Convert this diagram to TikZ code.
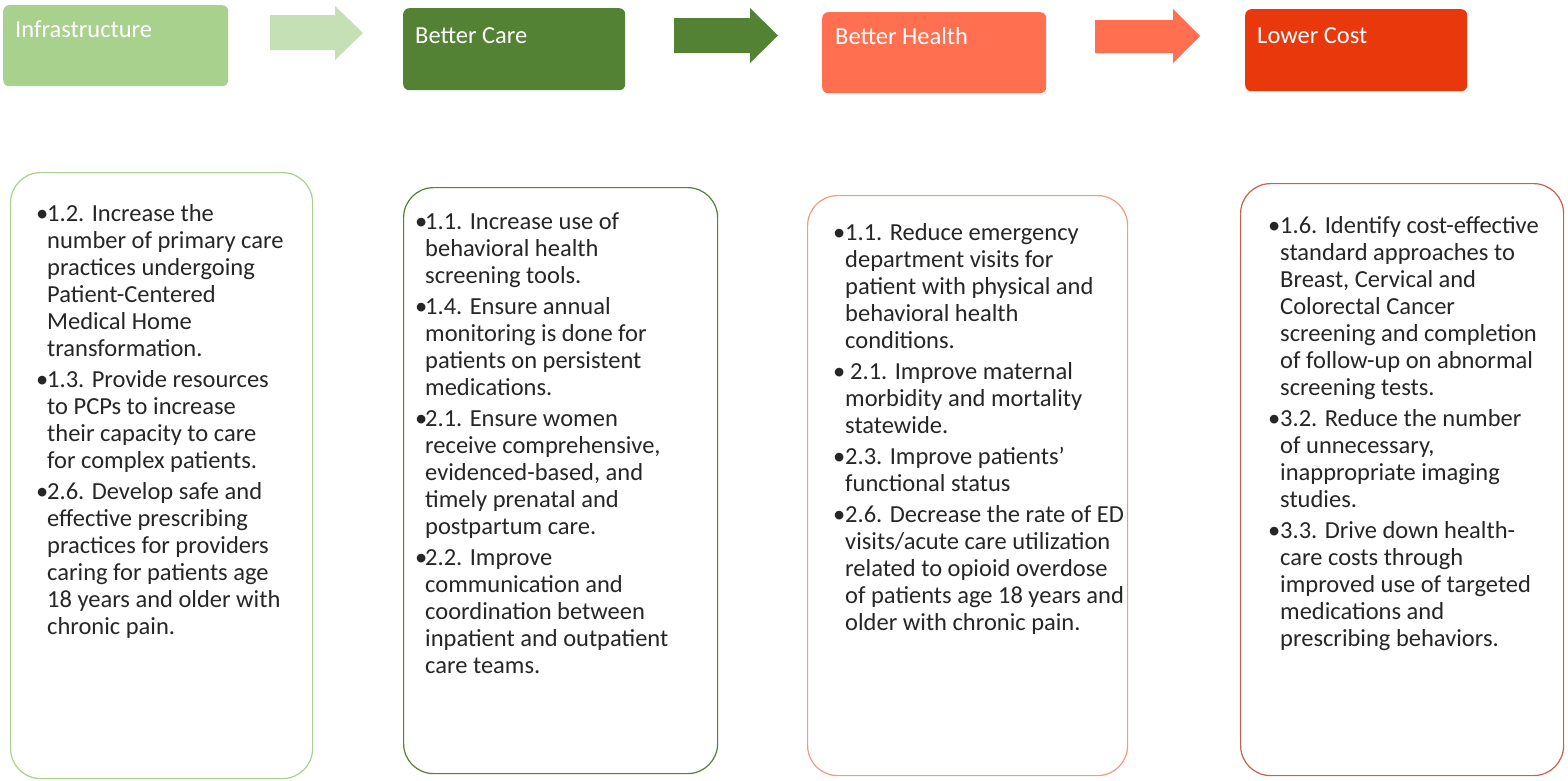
\documentclass[tikz,border=0pt]{standalone}
\usepackage{fontspec}
\setmainfont{Carlito}
\usepackage{array}
\definecolor{g1}{HTML}{A9D18E}
\definecolor{g1a}{HTML}{C5E0B4}
\definecolor{g2}{HTML}{548235}
\definecolor{o1}{HTML}{FF6F50}
\definecolor{r1}{HTML}{EA380D}
\definecolor{txt}{HTML}{262626}
\definecolor{b3}{HTML}{F29A84}
\definecolor{b4}{HTML}{C9604F}
\tikzset{
 headbox/.style={anchor=north west, rounded corners=6pt, inner sep=0pt},
 hlabel/.style={anchor=base west, text=white, font=\fontsize{24.5}{28}\selectfont, inner sep=0pt},
 card/.style={anchor=north west, rounded corners=30pt, line width=1.2pt, inner sep=0pt},
 items/.style={anchor=base west, inner sep=0pt, text=txt, font=\fontsize{24.5}{27}\selectfont},
}
\newcommand{\bul}{\textbullet}
\begin{document}
\begin{tikzpicture}[x=1pt,y=-1pt]
\useasboundingbox (0,0) rectangle (1568,780);
\fill[white] (0,0) rectangle (1568,780);
% header boxes
\node[headbox, fill=g1, minimum width=225pt, minimum height=81pt] (h1) at (3,5) {};
\node[headbox, fill=g2, minimum width=222pt, minimum height=82pt] (h2) at (403,8) {};
\node[headbox, fill=o1, minimum width=224pt, minimum height=81pt] (h3) at (822,12) {};
\node[headbox, fill=r1, minimum width=222pt, minimum height=82pt] (h4) at (1245,9) {};
\node[hlabel] (l1) at (15,37) {Infrastructure};
\node[hlabel] (l2) at (415,43) {Better Care};
\node[hlabel] (l3) at (835,44) {Better Health};
\node[hlabel] (l4) at (1257,43) {Lower Cost};
% block arrows
\fill[g1a] (270,15) -- (335,15) -- (335,6) -- (363,33) -- (335,60) -- (335,50) -- (270,50) -- cycle;
\fill[g2] (674,18) -- (750,18) -- (750,8) -- (778,35.5) -- (750,63) -- (750,53) -- (674,53) -- cycle;
\fill[o1] (1095,20) -- (1173,20) -- (1173,9) -- (1200,36) -- (1173,63) -- (1173,53) -- (1095,53) -- cycle;
% cards
\node[card, draw=g1, minimum width=302pt, minimum height=606pt] (c1) at (10,172) {};
\node[card, draw=g2, minimum width=314pt, minimum height=586pt] (c2) at (403,187) {};
\node[card, draw=b3, minimum width=320pt, minimum height=580pt] (c3) at (807,195) {};
\node[card, draw=b4, minimum width=323pt, minimum height=592pt] (c4) at (1240,183) {};
% texts
\node[items] (t1) at (36,221) {\begin{tabular}[t]{@{}p{11pt}@{}l@{}}
\bul & 1.2. Increase the\\
& number of primary care\\
& practices undergoing\\
& Patient-Centered\\
& Medical Home\\
& transformation.\\[4pt]
\bul & 1.3. Provide resources\\
& to PCPs to increase\\
& their capacity to care\\
& for complex patients.\\[4pt]
\bul & 2.6. Develop safe and\\
& effective prescribing\\
& practices for providers\\
& caring for patients age\\
& 18 years and older with\\
& chronic pain.
\end{tabular}};
\node[items] (t2) at (415,229) {\begin{tabular}[t]{@{}p{10pt}@{}l@{}}
\bul & 1.1. Increase use of\\
& behavioral health\\
& screening tools.\\[4pt]
\bul & 1.4. Ensure annual\\
& monitoring is done for\\
& patients on persistent\\
& medications.\\[4pt]
\bul & 2.1. Ensure women\\
& receive comprehensive,\\
& evidenced-based, and\\
& timely prenatal and\\
& postpartum care.\\[4pt]
\bul & 2.2. Improve\\
& communication and\\
& coordination between\\
& inpatient and outpatient\\
& care teams.
\end{tabular}};
\node[items] (t3) at (833,240) {\begin{tabular}[t]{@{}p{12pt}@{}l@{}}
\bul & 1.1. Reduce emergency\\
& department visits for\\
& patient with physical and\\
& behavioral health\\
& conditions.\\[4pt]
\bul & \hspace{5pt}2.1. Improve maternal\\
& morbidity and mortality\\
& statewide.\\[4pt]
\bul & 2.3. Improve patients’\\
& functional status\\[4pt]
\bul & 2.6. Decrease the rate of ED\\
& visits/acute care utilization\\
& related to opioid overdose\\
& of patients age 18 years and\\
& older with chronic pain.
\end{tabular}};
\node[items] (t4) at (1268,233) {\begin{tabular}[t]{@{}p{12pt}@{}l@{}}
\bul & 1.6. Identify cost-effective\\
& standard approaches to\\
& Breast, Cervical and\\
& Colorectal Cancer\\
& screening and completion\\
& of follow-up on abnormal\\
& screening tests.\\[4pt]
\bul & 3.2. Reduce the number\\
& of unnecessary,\\
& inappropriate imaging\\
& studies.\\[4pt]
\bul & 3.3. Drive down health-\\
& care costs through\\
& improved use of targeted\\
& medications and\\
& prescribing behaviors.
\end{tabular}};
\end{tikzpicture}
\end{document}
